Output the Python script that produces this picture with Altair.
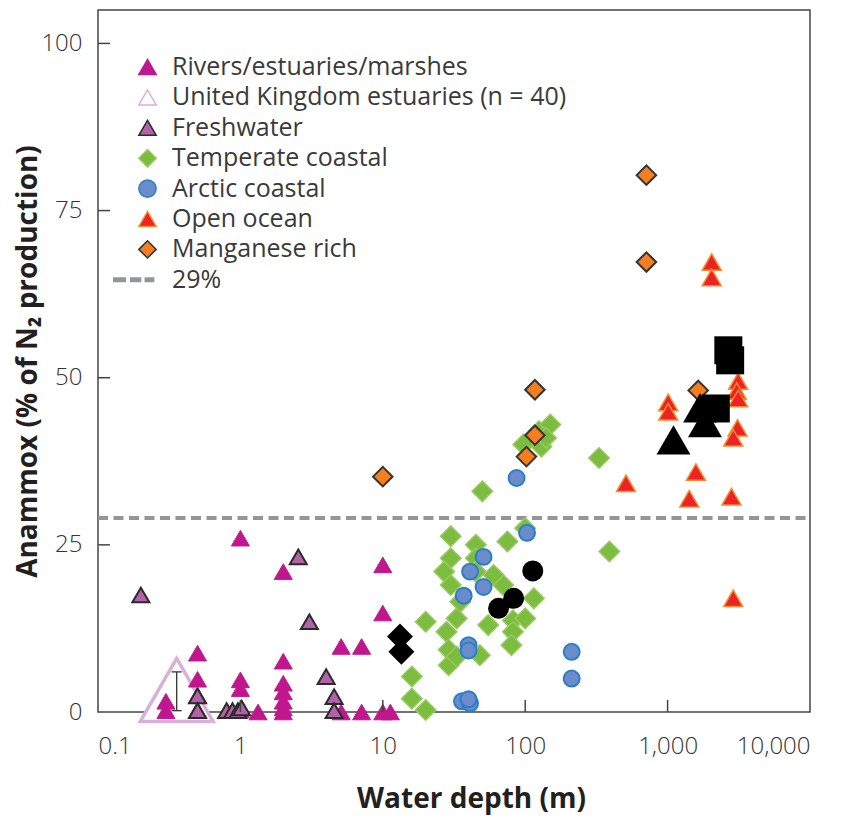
import altair as alt
import pandas as pd

# ---------------- data ----------------
categories = ["Rivers/estuaries/marshes", "United Kingdom estuaries (n = 40)", "Freshwater",
              "Temperate coastal", "Arctic coastal", "Open ocean", "Manganese rich", "29%"]

rivers_x = [1, 2, 10, 10, 0.5, 0.5, 0.3, 0.3, 1, 1, 1, 1.33, 2, 2, 2, 2, 2, 2, 5.1, 7.1, 5.1, 7.1, 10, 11.3, 0.5, 0.5]
rivers_y = [26, 21, 22, 14.8, 8.8, 4.9, 1.6, 0.2, 4.8, 3.5, 0.3, 0, 7.6, 4.3, 3.0, 1.6, 0.6, 0, 9.8, 9.8, 0, 0, 0, 0, 2.5, 0.3]

uk_x = [0.357]
uk_y = [3.3]
uk_lo = [0.2]
uk_hi = [6.0]

fresh_x = [0.2, 2.55, 3.05, 4.0, 4.55, 4.55, 0.5, 0.5, 0.8, 0.88, 0.96, 1.02]
fresh_y = [17.5, 23.2, 13.5, 5.3, 2.3, 0.2, 2.4, 0.2, 0.2, 0.2, 0.2, 0.6]

temp_x = [50, 330, 390, 97, 130, 125, 150, 140, 30, 45, 75, 100, 30, 27, 30, 45, 70, 115, 20, 33,
          55, 82, 100, 28, 29, 29, 48, 82, 80, 16, 16, 20, 33, 45, 60, 35]
temp_y = [33, 38, 24, 40, 39.7, 42, 43, 41, 26.3, 25, 25.5, 27.5, 23, 21, 19, 23, 19, 17, 13.5, 14,
          13, 13.7, 14, 12, 9.3, 7, 8.5, 12, 10, 5.3, 2, 0.3, 8.3, 21, 20.5, 16.5]

arc_x = [87, 103, 51, 41, 51, 37, 40, 40, 212, 212, 36, 41, 40]
arc_y = [35, 26.8, 23.2, 21, 18.7, 17.4, 10, 9.2, 9, 5, 1.6, 1.3, 1.9]

ocean_x = [2040, 2040, 1010, 1010, 3130, 3060, 3130, 3100, 2890, 1580, 510, 1420, 2810, 2890]
ocean_y = [67.3, 65, 46.3, 44.9, 49.5, 48, 46.9, 42.5, 41, 35.9, 34.2, 31.9, 32.2, 17]

mn_x = [10, 102, 117, 117, 710, 710, 1640]
mn_y = [35.2, 38.2, 41.4, 48.2, 80.3, 67.3, 48.1]

# unlabeled black symbols
bcirc_x = [113, 83, 65]
bcirc_y = [21.1, 17, 15.5]
bdiam_x = [13.2, 13.5]
bdiam_y = [11.3, 9.0]
btri_x = [1100, 1690, 1830]
btri_y = [40.7, 45.5, 43.3]
bsq_x = [2670, 2750, 2180]
bsq_y = [54.1, 52.6, 45.4]

threshold = [29]
x_tick_values = [0.1, 1, 10, 100, 1000, 10000]
y_tick_values = [0, 25, 50, 75, 100]
x_inner_ticks = [1, 10, 100, 1000]
y_inner_ticks = [25, 50, 75, 100]

# ---------------- styles ----------------
DASH = "M-3.9,-0.2H-2.55V0.2H-3.9Z M-1.95,-0.2H-0.8V0.2H-1.95Z M-0.25,-0.2H0.7V0.2H-0.25Z"
fills = ["#C0178E", "white", "#B462A8", "#7CBD40", "#6B8BCB", "#EC2227", "#F47E20", "#939598"]
strokes = ["#C0178E", "#D8B0D8", "#2B2B2B", "#97C95F", "#2A7FC8", "#F68B2A", "#333333", "#939598"]
shapes = ["triangle-up", "triangle-up", "triangle-up", "diamond", "circle", "triangle-up", "diamond", DASH]
msize = {categories[0]: 324, categories[1]: 5300, categories[2]: 289, categories[3]: 420,
         categories[4]: 254, categories[5]: 361, categories[6]: 380}
mwidth = {categories[0]: 1, categories[1]: 3.5, categories[2]: 2, categories[3]: 1.5,
          categories[4]: 2, categories[5]: 1.5, categories[6]: 2}

groups = [(categories[1], uk_x, uk_y), (categories[0], rivers_x, rivers_y),
          (categories[2], fresh_x, fresh_y), (categories[3], temp_x, temp_y),
          (categories[4], arc_x, arc_y), (categories[5], ocean_x, ocean_y),
          (categories[6], mn_x, mn_y)]
rows = []
for cat, xs, ys in groups:
    for xv, yv in zip(xs, ys):
        rows.append({"x": xv, "y": yv, "cat": cat, "sz": msize[cat], "sw": mwidth[cat]})
df = pd.DataFrame(rows)

W, H = 712, 702
xscale = alt.Scale(type="log", domain=[0.1, 10000], nice=False)
yscale = alt.Scale(domain=[0, 105], nice=False, zero=False)
xaxis = alt.Axis(values=x_tick_values, format=",~f", title="Water depth (m)",
                 labelPadding=22, tickSize=0, titleX=373, titleY=95,
                 titleAlign="center", titleBaseline="alphabetic")
yaxis = alt.Axis(values=y_tick_values, title="Anammox (% of N₂ production)",
                 labelPadding=16, tickSize=0, titleX=-62, titleY=351, titleAngle=270,
                 titleAlign="center", titleBaseline="alphabetic")
X = alt.X("x:Q", scale=xscale, axis=xaxis)
Y = alt.Y("y:Q", scale=yscale, axis=yaxis)

legend = alt.Legend(orient="none", legendX=37, legendY=44.5, title=None,
                    labelFont="Open Sans", labelFontSize=25, labelColor="#3a3a3a",
                    symbolSize=300, symbolStrokeWidth=1.5, rowPadding=4.4, labelOffset=12,
                    padding=0, symbolOpacity=1, labelLimit=700)

rule29 = alt.Chart(pd.DataFrame({"y": threshold})).mark_rule(
    color="#939598", strokeWidth=4, strokeDash=[10, 5.5]
).encode(y=Y, x=alt.value(0), x2=alt.value(W))

points = alt.Chart(df).mark_point(filled=True, opacity=1).encode(
    x=X, y=Y,
    fill=alt.Fill("cat:N", scale=alt.Scale(domain=categories, range=fills), legend=legend),
    stroke=alt.Stroke("cat:N", scale=alt.Scale(domain=categories, range=strokes), legend=legend),
    shape=alt.Shape("cat:N", scale=alt.Scale(domain=categories, range=shapes), legend=legend),
    size=alt.Size("sz:Q", scale=None, legend=None),
    strokeWidth=alt.StrokeWidth("sw:Q", scale=None, legend=None),
)

err_df = pd.DataFrame({"x": uk_x, "y": uk_lo, "y2": uk_hi})
err_rule = alt.Chart(err_df).mark_rule(color="#333", strokeWidth=1.3).encode(
    x=X, y=Y, y2=alt.Y2("y2:Q"))
cap_df = pd.DataFrame({"x": uk_x * 2, "y": uk_lo + uk_hi})
err_caps = alt.Chart(cap_df).mark_tick(orient="horizontal", size=10, thickness=1.3,
                                       color="#333", opacity=1).encode(x=X, y=Y)


def black(xs, ys, shape, size):
    return alt.Chart(pd.DataFrame({"x": xs, "y": ys})).mark_point(
        filled=True, opacity=1, color="black", shape=shape, size=size).encode(x=X, y=Y)


bl_circ = black(bcirc_x, bcirc_y, "circle", 441)
bl_diam = black(bdiam_x, bdiam_y, "diamond", 676)
bl_tri = black(btri_x, btri_y, "triangle-up", 1150)
bl_sq = black(bsq_x, bsq_y, "square", 784)

xt = alt.Chart(pd.DataFrame({"x": x_inner_ticks})).mark_rule(color="#444", strokeWidth=1.5).encode(
    x=X, y=alt.value(H), y2=alt.value(H - 12))
yt = alt.Chart(pd.DataFrame({"y": y_inner_ticks})).mark_rule(color="#444", strokeWidth=1.5).encode(
    y=Y, x=alt.value(0), x2=alt.value(12))

chart = alt.layer(rule29, points, err_rule, err_caps, bl_circ, bl_diam, bl_tri, bl_sq, xt, yt).properties(
    width=W, height=H,
    padding={"left": 98, "top": 10, "right": 40, "bottom": 106},
    autosize=alt.AutoSizeParams(type="none"),
    background="white",
).configure_view(
    stroke="#444", strokeWidth=1.5
).configure_axis(
    grid=False, domain=False, ticks=False,
    labelFont="Open Sans", labelFontSize=24, labelColor="#333", labelFontWeight=300,
    titleFont="Open Sans", titleFontSize=28, titleFontWeight="bold", titleColor="#231F20",
)

chart.save("out.html", embed_options={"renderer": "svg", "actions": False})
